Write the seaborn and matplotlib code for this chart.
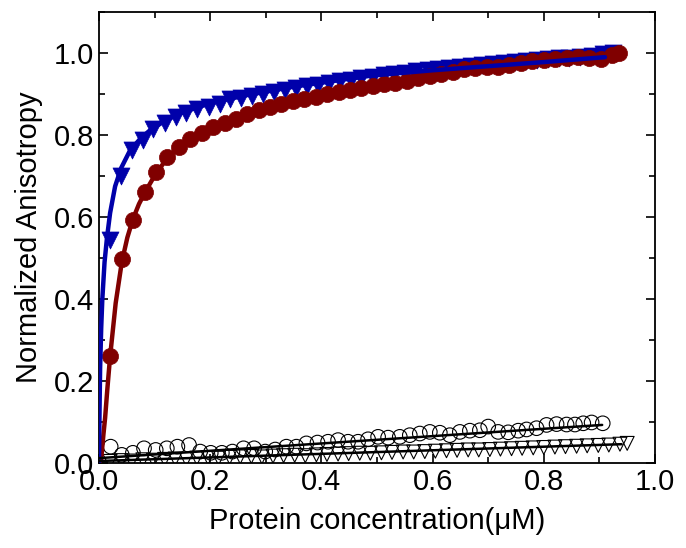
import numpy as np
import seaborn as sns
import matplotlib.pyplot as plt
from matplotlib.ticker import MultipleLocator

# blue triangles (data)
blue_x = [0.020, 0.039, 0.059, 0.079, 0.098, 0.118, 0.138, 0.157, 0.177, 0.197,
          0.217, 0.236, 0.256, 0.276, 0.295, 0.315, 0.335, 0.354, 0.374, 0.394,
          0.413, 0.433, 0.453, 0.472, 0.492, 0.512, 0.531, 0.551, 0.571, 0.591,
          0.610, 0.630, 0.650, 0.669, 0.689, 0.709, 0.728, 0.748, 0.768, 0.787,
          0.807, 0.827, 0.846, 0.866, 0.886, 0.906, 0.925]
blue_y = [0.545, 0.700, 0.763, 0.788, 0.815, 0.829, 0.844, 0.854, 0.863, 0.868,
          0.876, 0.888, 0.890, 0.895, 0.900, 0.905, 0.910, 0.914, 0.919, 0.923,
          0.927, 0.931, 0.935, 0.938, 0.942, 0.946, 0.949, 0.952, 0.956, 0.958,
          0.961, 0.964, 0.966, 0.968, 0.971, 0.974, 0.976, 0.978, 0.981, 0.983,
          0.985, 0.987, 0.989, 0.991, 0.994, 0.997, 1.000]
# blue fit
blue_fit_x = [0.0, 0.001, 0.002, 0.004, 0.006, 0.01, 0.0144, 0.02, 0.029, 0.04,
              0.056, 0.075, 0.092, 0.12, 0.149, 0.18, 0.214, 0.268, 0.35, 0.49,
              0.6, 0.7, 0.8, 0.91]
blue_fit_y = [0.0, 0.13, 0.23, 0.33, 0.40, 0.49, 0.55, 0.61, 0.675, 0.72,
              0.763, 0.792, 0.812, 0.836, 0.854, 0.869, 0.882, 0.898, 0.918, 0.945,
              0.958, 0.968, 0.978, 0.99]

# red circles (data)
red_x = [0.020, 0.041, 0.061, 0.082, 0.103, 0.123, 0.144, 0.164, 0.185, 0.205,
         0.226, 0.246, 0.267, 0.287, 0.308, 0.328, 0.349, 0.369, 0.390, 0.410,
         0.431, 0.451, 0.472, 0.492, 0.513, 0.533, 0.554, 0.574, 0.595, 0.615,
         0.636, 0.656, 0.677, 0.697, 0.718, 0.738, 0.759, 0.779, 0.800, 0.820,
         0.841, 0.861, 0.882, 0.902, 0.923, 0.935]
red_y = [0.260, 0.497, 0.593, 0.661, 0.710, 0.746, 0.771, 0.790, 0.805, 0.820,
         0.829, 0.840, 0.851, 0.862, 0.868, 0.875, 0.882, 0.889, 0.894, 0.900,
         0.906, 0.910, 0.915, 0.920, 0.924, 0.928, 0.933, 0.938, 0.944, 0.948,
         0.955, 0.960, 0.963, 0.965, 0.967, 0.970, 0.975, 0.980, 0.982, 0.985,
         0.988, 0.990, 0.988, 0.986, 0.995, 1.000]
# red fit
red_fit_x = [0.0, 0.004, 0.008, 0.011, 0.015, 0.02, 0.03, 0.041, 0.051, 0.061,
             0.072, 0.083, 0.103, 0.124, 0.144, 0.165, 0.2, 0.25, 0.3, 0.4,
             0.5, 0.6, 0.7, 0.8, 0.93]
red_fit_y = [0.0, 0.01, 0.07, 0.11, 0.18, 0.26, 0.39, 0.49, 0.55, 0.595,
             0.632, 0.661, 0.708, 0.745, 0.771, 0.79, 0.815, 0.843, 0.865, 0.898,
             0.925, 0.945, 0.962, 0.975, 0.99]

# open circles (control)
oc_x = [0.021, 0.041, 0.061, 0.081, 0.102, 0.122, 0.141, 0.162, 0.182, 0.201,
        0.221, 0.240, 0.260, 0.279, 0.299, 0.317, 0.337, 0.355, 0.373, 0.393,
        0.412, 0.430, 0.448, 0.466, 0.484, 0.502, 0.520, 0.541, 0.559, 0.577,
        0.595, 0.613, 0.631, 0.649, 0.667, 0.685, 0.700, 0.718, 0.736, 0.754,
        0.769, 0.787, 0.805, 0.823, 0.841, 0.856, 0.871, 0.886, 0.906]
oc_y = [0.040, 0.020, 0.025, 0.036, 0.032, 0.036, 0.040, 0.044, 0.028, 0.025,
        0.025, 0.028, 0.036, 0.036, 0.028, 0.033, 0.040, 0.040, 0.048, 0.050,
        0.052, 0.056, 0.052, 0.052, 0.058, 0.064, 0.062, 0.064, 0.068, 0.072,
        0.076, 0.074, 0.068, 0.076, 0.079, 0.080, 0.089, 0.076, 0.075, 0.079,
        0.082, 0.085, 0.093, 0.095, 0.094, 0.094, 0.097, 0.099, 0.097]
oc_fit_x = [0.0, 0.905]
oc_fit_y = [0.012, 0.093]

# open triangles (control)
ot_x = [0.020, 0.040, 0.059, 0.079, 0.098, 0.118, 0.137, 0.157, 0.176, 0.196,
        0.215, 0.235, 0.254, 0.274, 0.293, 0.313, 0.332, 0.352, 0.371, 0.391,
        0.410, 0.430, 0.449, 0.469, 0.488, 0.508, 0.527, 0.547, 0.566, 0.586,
        0.605, 0.625, 0.644, 0.664, 0.683, 0.703, 0.722, 0.742, 0.761, 0.781,
        0.800, 0.820, 0.839, 0.859, 0.878, 0.898, 0.917, 0.937, 0.950]
ot_y = [0.004, 0.006, 0.005, 0.008, 0.007, 0.009, 0.010, 0.009, 0.012, 0.013,
        0.012, 0.014, 0.015, 0.016, 0.015, 0.017, 0.018, 0.019, 0.018, 0.020,
        0.021, 0.022, 0.023, 0.024, 0.024, 0.025, 0.026, 0.027, 0.027, 0.028,
        0.029, 0.030, 0.031, 0.032, 0.032, 0.033, 0.034, 0.035, 0.036, 0.037,
        0.038, 0.039, 0.040, 0.041, 0.042, 0.043, 0.044, 0.046, 0.048]
ot_fit_x = [0.0, 0.94]
ot_fit_y = [0.005, 0.046]

blue = '#0000aa'
red = '#800000'

sns.set_style('ticks')
plt.rcParams['font.family'] = ['Liberation Sans', 'DejaVu Sans']
plt.rcParams['text.color'] = 'black'
plt.rcParams['axes.labelcolor'] = 'black'
plt.rcParams['xtick.color'] = 'black'
plt.rcParams['ytick.color'] = 'black'

fig = plt.figure(figsize=(6.86, 5.48), dpi=100)
ax = fig.add_axes([0.1443, 0.155, 0.8105, 0.823])

sns.scatterplot(x=blue_x, y=blue_y, marker='v', s=150, color=blue,
                edgecolor=blue, linewidth=0.5, ax=ax, zorder=2)
sns.scatterplot(x=red_x, y=red_y, marker='o', s=135, color=red,
                edgecolor=red, linewidth=0.5, ax=ax, zorder=3)
sns.lineplot(x=red_fit_x, y=red_fit_y, color=red, lw=3.2, ax=ax, zorder=4,
             estimator=None, sort=False)
sns.lineplot(x=blue_fit_x, y=blue_fit_y, color=blue, lw=3.2, ax=ax, zorder=5,
             estimator=None, sort=False)

ax.scatter(oc_x, oc_y, marker='o', s=110, facecolors='none',
           edgecolors='black', linewidths=0.8, zorder=2)
ax.scatter(ot_x, ot_y, marker='v', s=100, facecolors='none',
           edgecolors='black', linewidths=0.8, zorder=2)
sns.lineplot(x=oc_fit_x, y=oc_fit_y, color='black', lw=1.8, ax=ax, zorder=6,
             estimator=None, sort=False)
sns.lineplot(x=ot_fit_x, y=ot_fit_y, color='black', lw=1.8, ax=ax, zorder=6,
             estimator=None, sort=False)

ax.set_xlim(0, 1.0)
ax.set_ylim(0, 1.1)
ax.xaxis.set_major_locator(MultipleLocator(0.2))
ax.xaxis.set_minor_locator(MultipleLocator(0.1))
ax.yaxis.set_major_locator(MultipleLocator(0.2))
ax.yaxis.set_minor_locator(MultipleLocator(0.1))
ax.set_xticklabels([f'{v:.1f}' for v in ax.get_xticks()])
ax.set_yticklabels([f'{v:.1f}' for v in ax.get_yticks()])
ax.tick_params(which='both', direction='in', top=True, right=True,
               labelsize=21, width=1.2, color='black', labelcolor='black')
ax.tick_params(which='major', length=6.5)
ax.tick_params(which='minor', length=4)
for sp in ax.spines.values():
    sp.set_linewidth(1.3)
    sp.set_color('black')

ax.set_xlabel('Protein concentration(μM)', fontsize=21, labelpad=8)
ax.set_ylabel('Normalized Anisotropy', fontsize=21, labelpad=8)

fig.savefig('out.png', dpi=100)
